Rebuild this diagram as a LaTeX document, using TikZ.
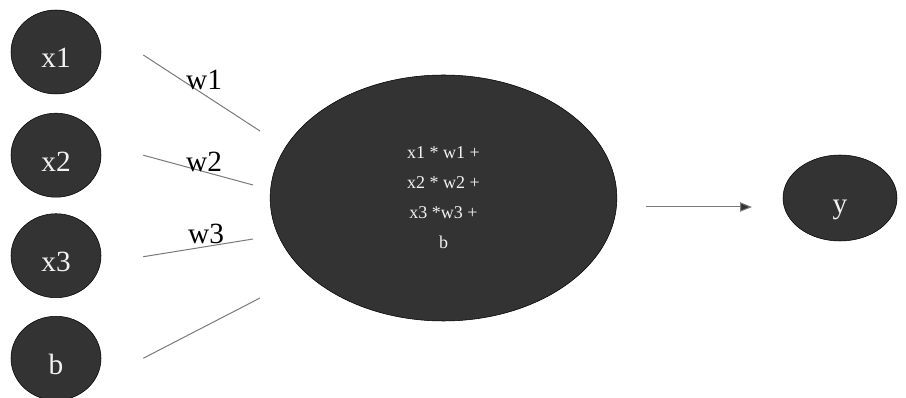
\documentclass[tikz,border=0pt]{standalone}
\usepackage{fontspec}
\setmainfont{Liberation Serif}
\usepackage{tikz}
\usetikzlibrary{shapes.geometric,arrows.meta,positioning}
\definecolor{nodefill}{HTML}{333333}
\definecolor{wiregray}{HTML}{7a7a7a}
\definecolor{lighttext}{HTML}{f2f2f2}

\begin{document}
\begin{tikzpicture}[x=0.75pt,y=-0.75pt,
    inp/.style={ellipse, draw=black, fill=nodefill, text=lighttext,
                minimum width=67.5pt, minimum height=63pt, inner sep=0pt,
                text height=24pt, text depth=0pt,
                font=\fontsize{22}{26}\selectfont},
    sum/.style={ellipse, draw=black, fill=nodefill, text=lighttext,
                minimum width=260pt, minimum height=184.5pt, inner sep=0pt,
                font=\fontsize{13.5}{22.5}\selectfont, align=center},
    wire/.style={draw=wiregray, line width=0.75pt},
    wlabel/.style={font=\fontsize{22}{26}\selectfont, inner sep=0pt},
]
\useasboundingbox (0,0) rectangle (906,398);

% inputs
\node[inp] (x1) at (56,52) {x1};
\node[inp,below=14pt of x1] (x2) {x2};
\node[inp,below=12pt of x2] (x3) {x3};
\node[inp,below=13.5pt of x3] (b) {b};

% weighted sum and output
\node[sum] (sum) at (443.5,198) {x1 * w1 +\\x2 * w2 +\\x3 *w3 +\\b};
\node[inp,minimum width=85.5pt,minimum height=64.5pt] (y) at (840,198) {y};

\coordinate (e1) at (260,131);
\coordinate (e2) at (253,185);
\coordinate (e3) at (253,239);
\coordinate (e4) at (260,298);
\coordinate (a0) at (646,207);
\coordinate (a1) at (752,207);

\draw[wire] ([xshift=31.5pt,yshift=-2.25pt]x1.east) -- (e1);
\draw[wire] ([xshift=31.5pt]x2.east) -- (e2);
\draw[wire] ([xshift=31.5pt,yshift=-0.75pt]x3.east) -- (e3);
\draw[wire] ([xshift=31.5pt]b.east) -- (e4);
\draw[wire,-{Triangle[length=9pt,width=7pt,fill=nodefill]}] (a0) -- (a1);

\node[wlabel] (w1) at (204,80) {w1};
\node[wlabel] (w2) at (204,162) {w2};
\node[wlabel] (w3) at (206,234) {w3};
\end{tikzpicture}
\end{document}
